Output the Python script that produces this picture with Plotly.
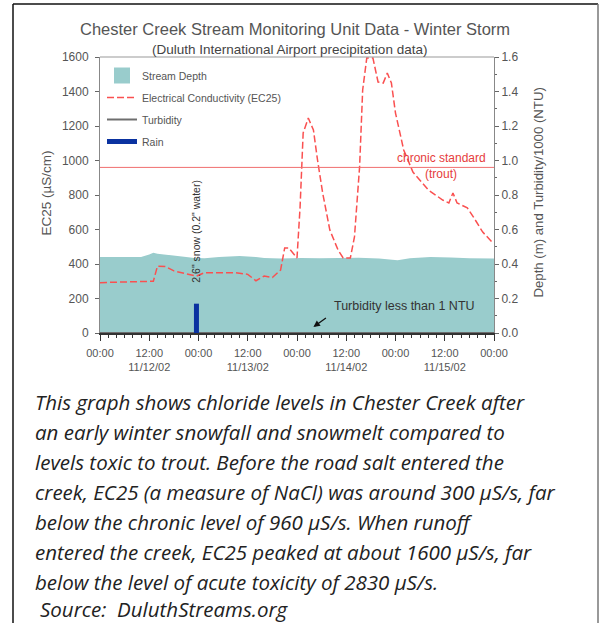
import plotly.graph_objects as go

# ---------------- data ----------------
ec_time = [
    "2002-11-12 00:00", "2002-11-12 05:00", "2002-11-12 10:00", "2002-11-12 13:00",
    "2002-11-12 14:00", "2002-11-12 16:00", "2002-11-12 18:00", "2002-11-12 22:00",
    "2002-11-12 23:30", "2002-11-13 01:30", "2002-11-13 09:00", "2002-11-13 12:00",
    "2002-11-13 14:00", "2002-11-13 16:00", "2002-11-13 18:00", "2002-11-13 20:00",
    "2002-11-13 21:00", "2002-11-13 22:00", "2002-11-13 23:00", "2002-11-14 00:00",
    "2002-11-14 00:45", "2002-11-14 01:30", "2002-11-14 02:45", "2002-11-14 04:00",
    "2002-11-14 05:00", "2002-11-14 06:15", "2002-11-14 08:00", "2002-11-14 10:00",
    "2002-11-14 11:15", "2002-11-14 13:00", "2002-11-14 14:00", "2002-11-14 15:15",
    "2002-11-14 16:00", "2002-11-14 17:00", "2002-11-14 18:30", "2002-11-14 19:45",
    "2002-11-14 21:00", "2002-11-14 22:00", "2002-11-14 23:00", "2002-11-15 00:00",
    "2002-11-15 02:00", "2002-11-15 04:15", "2002-11-15 08:00", "2002-11-15 11:30",
    "2002-11-15 13:00", "2002-11-15 14:00", "2002-11-15 15:00", "2002-11-15 17:30",
    "2002-11-15 19:00", "2002-11-15 21:15", "2002-11-15 23:45",
]
ec_value = [
    292, 295, 298, 300,
    388, 385, 360, 335,
    330, 350, 350, 340,
    303, 330, 322, 365,
    493, 493, 464, 435,
    730, 1160, 1246, 1177,
    1003, 812, 597, 481,
    435, 435, 557, 963,
    1409, 1594, 1594, 1455,
    1449, 1507, 1449, 1275,
    1061, 933, 829, 771,
    754, 812, 754, 725,
    672, 585, 522,
]

depth_time = [
    "2002-11-12 00:00", "2002-11-12 06:00", "2002-11-12 10:00", "2002-11-12 12:00",
    "2002-11-12 13:00", "2002-11-12 14:00", "2002-11-12 17:00", "2002-11-12 21:00",
    "2002-11-12 23:00", "2002-11-13 01:30", "2002-11-13 05:00", "2002-11-13 10:00",
    "2002-11-13 14:00", "2002-11-13 16:00", "2002-11-13 20:00", "2002-11-14 01:00",
    "2002-11-14 05:30", "2002-11-14 10:30", "2002-11-14 15:00", "2002-11-14 20:00",
    "2002-11-15 00:30", "2002-11-15 03:30", "2002-11-15 08:30", "2002-11-15 13:30",
    "2002-11-15 18:00", "2002-11-16 00:00",
]
depth_value = [
    0.440, 0.440, 0.440, 0.455,
    0.465, 0.460, 0.450, 0.440,
    0.435, 0.433, 0.440, 0.446,
    0.440, 0.435, 0.432, 0.435,
    0.433, 0.435, 0.436, 0.432,
    0.422, 0.434, 0.440, 0.438,
    0.433, 0.432,
]

turbidity_time = ["2002-11-12 00:00", "2002-11-13 00:00", "2002-11-14 00:00",
                  "2002-11-15 00:00", "2002-11-16 00:00"]
turbidity_value = [0.0005, 0.0005, 0.0006, 0.0005, 0.0005]   # NTU / 1000

rain_time = "2002-11-12 23:30"
rain_value = 0.17

chronic_standard = 960

x_tick_vals = ["2002-11-12 00:00", "2002-11-12 12:00", "2002-11-13 00:00",
               "2002-11-13 12:00", "2002-11-14 00:00", "2002-11-14 12:00",
               "2002-11-15 00:00", "2002-11-15 12:00", "2002-11-16 00:00"]
x_tick_text = ["00:00", "12:00<br>11/12/02", "00:00", "12:00<br>11/13/02", "00:00",
               "12:00<br>11/14/02", "00:00", "12:00<br>11/15/02", "00:00"]

ec_tick_vals = [0, 200, 400, 600, 800, 1000, 1200, 1400, 1600]
depth_tick_vals = [0.0, 0.2, 0.4, 0.6, 0.8, 1.0, 1.2, 1.4, 1.6]

caption_lines = [
    "This graph shows chloride levels in Chester Creek after",
    "an early winter snowfall and snowmelt compared to",
    "levels toxic to trout. Before the road salt entered the",
    "creek, EC25 (a measure of NaCl) was around 300 \u00b5S/s, far",
    "below the chronic level of 960 \u00b5S/s. When runoff",
    "entered the creek, EC25 peaked at about 1600 \u00b5S/s, far",
    "below the level of acute toxicity of 2830 \u00b5S/s.",
]
source_line = "Source:  DuluthStreams.org"

# ---------------- layout helpers ----------------
W, H = 601, 623
L, R, T, B = 100, 494, 57, 333


def px(x):
    return (x - L) / (R - L)


def py(y):
    return (B - y) / (B - T)


NARROW = "Liberation Sans Narrow, Arial Narrow, Liberation Sans, Arial, sans-serif"
CAPFONT = "Open Sans"
TEAL = "rgb(153,204,204)"
RED = "rgb(250,80,80)"

fig = go.Figure()

# depth-axis traces (primary y, drawn underneath)
fig.add_trace(go.Scatter(
    x=depth_time, y=depth_value, yaxis="y", mode="lines",
    fill="tozeroy", fillcolor=TEAL, line=dict(width=0, color=TEAL),
    name="Stream Depth", showlegend=False, hoverinfo="skip"))

fig.add_trace(go.Scatter(
    x=turbidity_time, y=turbidity_value, yaxis="y", mode="lines",
    line=dict(color="rgb(110,110,110)", width=2),
    name="Turbidity", showlegend=False))

fig.add_trace(go.Scatter(
    x=[rain_time, rain_time], y=[0, rain_value], yaxis="y", mode="lines",
    line=dict(color="rgb(10,50,160)", width=5),
    name="Rain", showlegend=False))

# EC on overlaying axis (drawn on top)
fig.add_trace(go.Scatter(
    x=ec_time, y=ec_value, yaxis="y2", mode="lines",
    line=dict(color=RED, width=1.5, dash="7px,3px"),
    name="Electrical Conductivity (EC25)", showlegend=False))

# legend entries
fig.add_trace(go.Scatter(x=[None], y=[None], yaxis="y", mode="markers",
                         marker=dict(symbol="square", size=17, color=TEAL),
                         name="Stream Depth", legendgroup="a"))
fig.add_trace(go.Scatter(x=[None], y=[None], yaxis="y", mode="lines",
                         line=dict(color=RED, width=1.5, dash="7px,3px"),
                         name="Electrical Conductivity (EC25)", legendgroup="b"))
fig.add_trace(go.Scatter(x=[None], y=[None], yaxis="y", mode="lines",
                         line=dict(color="rgb(110,110,110)", width=2),
                         name="Turbidity", legendgroup="c"))
fig.add_trace(go.Scatter(x=[None], y=[None], yaxis="y", mode="lines",
                         line=dict(color="rgb(10,50,160)", width=5),
                         name="Rain", legendgroup="d"))

fig.add_shape(type="line", xref="paper", yref="y2", x0=0, x1=1,
              y0=chronic_standard, y1=chronic_standard,
              line=dict(color="rgb(240,110,110)", width=1))

# frame lines
fig.add_shape(type="line", xref="paper", yref="paper", x0=px(13), x1=px(598),
              y0=py(4), y1=py(4), line=dict(color="#111", width=1.5))
fig.add_shape(type="line", xref="paper", yref="paper", x0=px(13), x1=px(13),
              y0=py(4), y1=py(640), line=dict(color="#111", width=1.5))
fig.add_shape(type="line", xref="paper", yref="paper", x0=px(598), x1=px(598),
              y0=py(4), y1=py(640), line=dict(color="#777", width=1.5))
fig.add_shape(type="line", xref="paper", yref="paper", x0=0, x1=1,
              y0=1, y1=1, line=dict(color="#999", width=1))

ann = []
ann.append(dict(text="Chester Creek Stream Monitoring Unit Data - Winter Storm",
                x=px(295), y=py(18), xref="paper", yref="paper", showarrow=False,
                xanchor="center",
                font=dict(family=NARROW, size=16.5, color="#555")))
ann.append(dict(text="(Duluth International Airport precipitation data)",
                x=px(289), y=py(40), xref="paper", yref="paper", showarrow=False,
                xanchor="center",
                font=dict(family=NARROW, size=13.5, color="#444")))
ann.append(dict(text="EC25 (\u00b5S/cm)", x=px(36), y=py(193), xref="paper", yref="paper",
                showarrow=False, textangle=-90,
                font=dict(family=NARROW, size=13.5, color="#555")))
ann.append(dict(text="Depth (m) and Turbidity/1000 (NTU)", x=px(547), y=py(193),
                xref="paper", yref="paper", showarrow=False, textangle=-90,
                font=dict(family=NARROW, size=13.2, color="#555")))
ann.append(dict(text="2.6\" snow (0.2\" water)", x=rain_time, y=590, xref="x", yref="y2",
                showarrow=False, textangle=-90,
                font=dict(family=NARROW, size=10.5, color="#333")))
ann.append(dict(text="chronic standard", x=px(441), y=py(158), xref="paper", yref="paper",
                xanchor="center", showarrow=False,
                font=dict(family=NARROW, size=12, color="rgb(230,60,60)")))
ann.append(dict(text="(trout)", x=px(441), y=py(174), xref="paper", yref="paper",
                xanchor="center", showarrow=False,
                font=dict(family=NARROW, size=12, color="rgb(230,60,60)")))
ann.append(dict(text="Turbidity less than 1 NTU", x=px(332), y=py(315), xanchor="left",
                xref="paper", yref="paper", showarrow=False,
                font=dict(family=NARROW, size=12.5, color="#333")))
ann.append(dict(text="", x="2002-11-14 04:00", y=35, xref="x", yref="y2",
                showarrow=True, ax=14, ay=-10, arrowhead=2, arrowsize=1,
                arrowwidth=1.3, arrowcolor="#111"))

cap_y = [402, 432, 462, 492, 522, 552, 582]
for line, yy in zip(caption_lines, cap_y):
    ann.append(dict(text=line, x=px(34), y=py(yy), xref="paper", yref="paper",
                    xanchor="left", yanchor="middle", showarrow=False, borderpad=0,
                    font=dict(family=CAPFONT, size=20.5, style="italic", color="#222")))
ann.append(dict(text=source_line, x=px(39), y=py(609), xref="paper", yref="paper",
                xanchor="left", yanchor="middle", showarrow=False, borderpad=0,
                font=dict(family=CAPFONT, size=20.5, style="italic", color="#222")))

fig.update_layout(
    width=W, height=H,
    margin=dict(l=L, r=W - R, t=T, b=H - B, pad=0),
    paper_bgcolor="white", plot_bgcolor="white",
    showlegend=True,
    legend=dict(x=px(102), y=py(61), xanchor="left", yanchor="top",
                bgcolor="rgba(0,0,0,0)", tracegroupgap=3, itemwidth=30,
                font=dict(family=NARROW, size=10.5, color="#555")),
    annotations=ann,
    xaxis=dict(type="date", range=["2002-11-12 00:00", "2002-11-16 00:00"],
               tickmode="array", tickvals=x_tick_vals, ticktext=x_tick_text,
               ticks="outside", ticklen=6, tickcolor="#333", tickwidth=1,
               showline=True, linecolor="#333", linewidth=1.5,
               showgrid=False, zeroline=False, ticklabelstandoff=3,
               tickfont=dict(family=NARROW, size=11, color="#555"),
               minor=dict(dtick=2 * 3600 * 1000, ticks="outside", ticklen=3,
                          tickcolor="#333", showgrid=False)),
    yaxis=dict(range=[0, 1.6], side="right",
               tickmode="array", tickvals=depth_tick_vals, tickformat=".1f",
               ticks="outside", ticklen=4, tickcolor="#666",
               showline=True, linecolor="#888", linewidth=1,
               showgrid=False, zeroline=False,
               tickfont=dict(family=NARROW, size=12, color="#555"),
               minor=dict(dtick=0.1, ticks="outside", ticklen=2, tickcolor="#666",
                          showgrid=False)),
    yaxis2=dict(range=[0, 1600], overlaying="y", side="left",
                tickmode="array", tickvals=ec_tick_vals,
                ticks="outside", ticklen=4, tickcolor="#666",
                showline=True, linecolor="#888", linewidth=1,
                showgrid=False, zeroline=False, ticklabelstandoff=4,
                tickfont=dict(family=NARROW, size=12, color="#555")),
)

fig.write_html("out.html", config={"displayModeBar": False},
               post_script="document.body.style.margin='0';")
